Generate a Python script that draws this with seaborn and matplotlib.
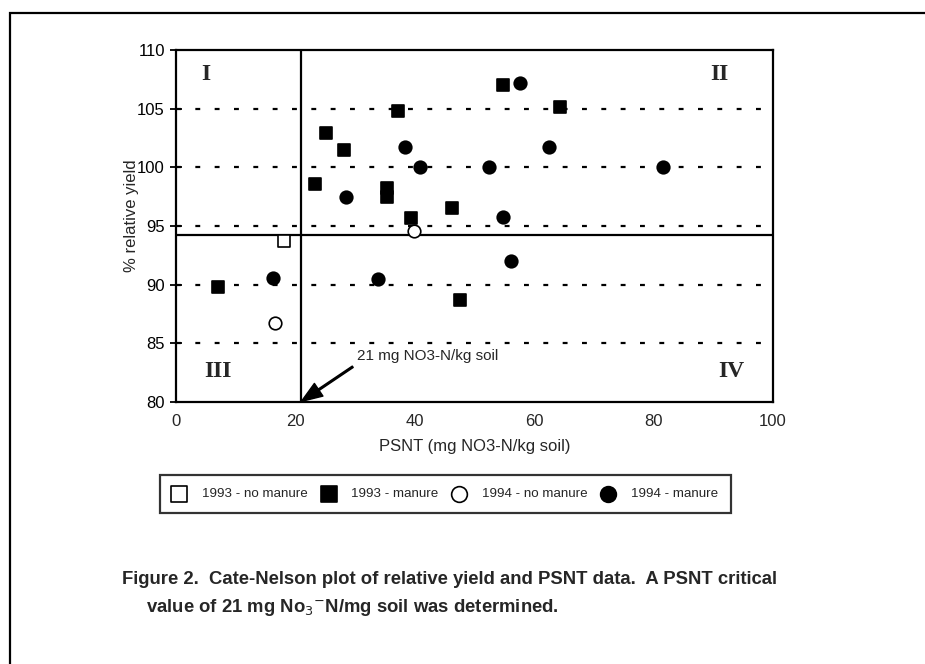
import matplotlib
matplotlib.use("Agg")
import matplotlib.pyplot as plt
from matplotlib.patches import Rectangle
import pandas as pd
import seaborn as sns

# values (PSNT, % relative yield)
psnt_93_nomanure = [18.1]
yield_93_nomanure = [93.7]

psnt_93_manure = [37.2, 25.1, 28.1, 23.2, 35.4, 35.4, 39.3, 46.2, 7.1, 47.5, 54.8, 64.3]
yield_93_manure = [104.8, 102.9, 101.5, 98.6, 98.2, 97.5, 95.7, 96.5, 89.8, 88.7, 107.0, 105.1]

psnt_94_nomanure = [39.9, 16.6]
yield_94_nomanure = [94.6, 86.7]

psnt_94_manure = [38.4, 40.9, 28.5, 16.3, 33.8, 57.6, 62.5, 52.4, 81.5, 54.7, 56.1]
yield_94_manure = [101.7, 100.0, 97.5, 90.6, 90.5, 107.2, 101.7, 100.0, 100.0, 95.8, 92.0]

group_names = ["1993 - no manure", "1993 - manure", "1994 - no manure", "1994 - manure"]
critical_psnt = 21
critical_yield = 94.2
grid_levels = [85, 90, 95, 100, 105]

frames = []
for name, xs, ys in zip(group_names,
                        [psnt_93_nomanure, psnt_93_manure, psnt_94_nomanure, psnt_94_manure],
                        [yield_93_nomanure, yield_93_manure, yield_94_nomanure, yield_94_manure]):
    frames.append(pd.DataFrame({"psnt": xs, "ryield": ys, "group": name}))
df = pd.concat(frames, ignore_index=True)

sns.set_style("white")
plt.rcParams["font.family"] = ["Liberation Sans", "DejaVu Sans"]

fig = plt.figure(figsize=(9.25, 6.64), dpi=100)
ax = fig.add_axes([0.1903, 0.3946, 0.6454, 0.5301])

# dotted reference lines
for lv in grid_levels:
    ax.axhline(lv, color="black", lw=1.6, ls=(0, (2.2, 6.5)), zorder=1)

# Cate-Nelson quadrant lines
ax.axvline(critical_psnt, color="black", lw=1.6, zorder=2)
ax.axhline(critical_yield, color="black", lw=1.6, zorder=2)

styles = {
    "1993 - no manure": ("s", "white"),
    "1993 - manure": ("s", "black"),
    "1994 - no manure": ("o", "white"),
    "1994 - manure": ("o", "black"),
}
for name in group_names:
    mk, fc = styles[name]
    sub = df[df["group"] == name]
    sns.scatterplot(data=sub, x="psnt", y="ryield", marker=mk, color=fc,
                    edgecolor="black", linewidth=1.2, s=82, ax=ax, label=name,
                    zorder=3, legend=False)

ax.set_xlim(0, 100)
ax.set_ylim(80, 110)
ax.set_xticks(range(0, 101, 20))
ax.set_yticks(range(80, 111, 5))
ax.tick_params(axis="y", direction="inout", length=9, width=1.3, colors="black",
               labelsize=12, left=True)
ax.tick_params(axis="x", length=0, labelsize=12, pad=9)
for sp in ax.spines.values():
    sp.set_color("black")
    sp.set_linewidth(1.6)

ax.set_xlabel("PSNT (mg NO3-N/kg soil)", fontsize=12, labelpad=7)
ax.set_ylabel("% relative yield", fontsize=12)
ax.yaxis.set_label_coords(-0.062, 0.53)

# quadrant labels
qfont = dict(family=["Liberation Serif", "DejaVu Serif"], fontsize=17, fontweight="bold")
ax.text(5, 107.9, "I", ha="center", va="center", **qfont)
ax.text(91, 107.9, "II", ha="center", va="center", **qfont)
ax.text(7, 82.6, "III", ha="center", va="center", **qfont)
ax.text(93, 82.6, "IV", ha="center", va="center", **qfont)

ax.text(30.3, 83.9, "21 mg NO3-N/kg soil", fontsize=11, va="center", ha="left")
ax.annotate("", xy=(critical_psnt, 80.05), xytext=(29.6, 83.0),
            arrowprops=dict(facecolor="black", edgecolor="black", width=1.2,
                            headwidth=11, headlength=15, shrink=0.0))

handles, labels = ax.get_legend_handles_labels()
leg = fig.legend(handles, labels, ncol=4, loc="center",
                 bbox_to_anchor=(0.173, 0.228, 0.617, 0.056), mode="expand",
                 fontsize=9.6, frameon=True, fancybox=False, handletextpad=1.2,
                 columnspacing=0.1, borderaxespad=0, handlelength=1.0,
                 borderpad=0.95, markerscale=1.25)
leg.get_frame().set_edgecolor("black")
leg.get_frame().set_linewidth(1.6)

# caption
fig.text(0.132, 0.127, "Figure 2.  Cate-Nelson plot of relative yield and PSNT data.  A PSNT critical",
         fontsize=13.3, fontweight="bold", ha="left", va="center")
fig.text(0.158, 0.085, "value of 21 mg No$_3$$^{-}$N/mg soil was determined.",
         fontsize=13.3, fontweight="bold", ha="left", va="center")

# outer frame of the page figure, running off the right and bottom edges
fig.add_artist(Rectangle((10 / 925, -0.1), 1.2, 1 - 13 / 664 + 0.1,
                         transform=fig.transFigure, fill=False,
                         edgecolor="black", lw=1.6))

fig.savefig("out.png", dpi=100, facecolor="white")
